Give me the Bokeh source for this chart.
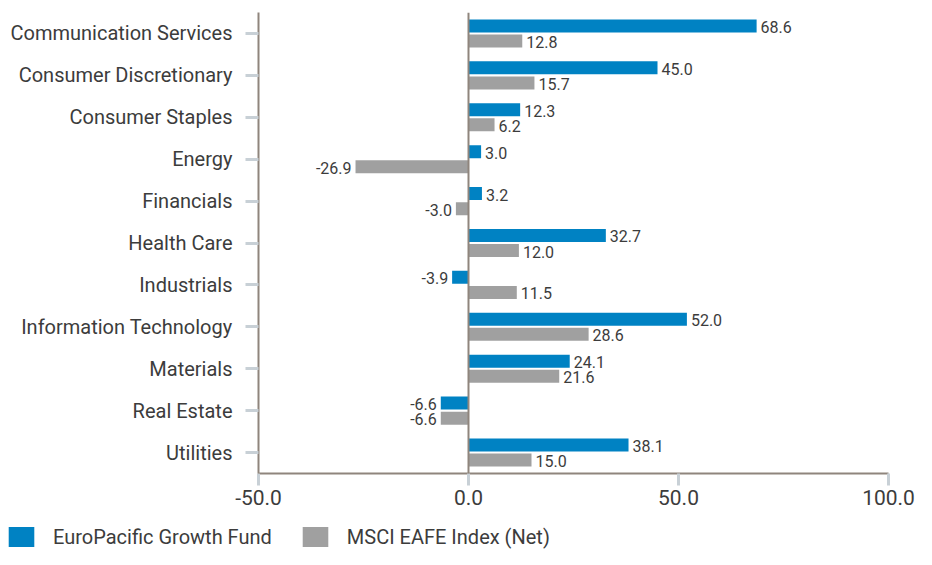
from bokeh.plotting import figure
from bokeh.models import (ColumnDataSource, FactorRange, Range1d, FixedTicker,
                          NumeralTickFormatter, Span, Legend, LegendItem)
from bokeh.transform import dodge
from bokeh.core.properties import value
from bokeh.embed import file_html
from bokeh.resources import INLINE

categories = ["Communication Services", "Consumer Discretionary", "Consumer Staples",
              "Energy", "Financials", "Health Care", "Industrials",
              "Information Technology", "Materials", "Real Estate", "Utilities"]
fund_values = [68.6, 45.0, 12.3, 3.0, 3.2, 32.7, -3.9, 52.0, 24.1, -6.6, 38.1]
index_values = [12.8, 15.7, 6.2, -26.9, -3.0, 12.0, 11.5, 28.6, 21.6, -6.6, 15.0]
series_names = ["EuroPacific Growth Fund", "MSCI EAFE Index (Net)"]
x_ticks = [-50, 0, 50, 100]

FONT = "Roboto"
TEXT = "#3c3c3c"
BLUE = "#0082c3"
GRAY = "#a0a0a0"
AXIS = "#8f857d"
TICK = "#c8d0d6"


def make_source(vals):
    return ColumnDataSource(dict(
        cat=categories,
        val=vals,
        label=["%.1f" % v for v in vals],
        align=["left" if v >= 0 else "right" for v in vals],
        xoff=[4 if v >= 0 else -4 for v in vals],
    ))


src_fund = make_source(fund_values)
src_index = make_source(index_values)

p = figure(
    y_range=FactorRange(factors=list(reversed(categories)), range_padding=0),
    x_range=Range1d(-50, 100),
    frame_width=630, frame_height=461,
    min_border_left=258, min_border_right=28, min_border_top=12, min_border_bottom=41,
    output_backend="svg", toolbar_location=None,
)
p.outline_line_color = None
p.xgrid.visible = False
p.ygrid.visible = False
p.background_fill_color = "white"

bh = 0.31
off = 0.18
p.hbar(y=dodge("cat", off, range=p.y_range), right="val", left=0, height=bh,
       source=src_fund, fill_color=BLUE, line_color=None)
p.hbar(y=dodge("cat", -off, range=p.y_range), right="val", left=0, height=bh,
       source=src_index, fill_color=GRAY, line_color=None)

for src, o in ((src_fund, off), (src_index, -off)):
    p.text(x="val", y=dodge("cat", o, range=p.y_range), text="label", source=src,
           x_offset="xoff", y_offset=1, text_align="align", text_baseline="middle",
           text_font=value(FONT), text_font_size="16px", text_color=TEXT)

p.add_layout(Span(location=0, dimension="height", line_color=AXIS, line_width=2))

# x axis
xa = p.xaxis[0]
xa.ticker = FixedTicker(ticks=x_ticks)
xa.formatter = NumeralTickFormatter(format="0.0")
xa.axis_line_color = AXIS
xa.axis_line_width = 2
xa.major_tick_line_color = TICK
xa.major_tick_line_width = 3
xa.major_tick_out = 12
xa.major_tick_in = 0
xa.minor_tick_line_color = None
xa.major_label_standoff = 4
xa.major_label_text_font = FONT
xa.major_label_text_font_size = "21px"
xa.major_label_text_color = TEXT

# y axis
ya = p.yaxis[0]
ya.axis_line_color = AXIS
ya.axis_line_width = 2
ya.major_tick_line_color = TICK
ya.major_tick_line_width = 3
ya.major_tick_out = 13
ya.major_tick_in = 0
ya.minor_tick_line_color = None
ya.major_label_standoff = 13
ya.major_label_text_font = FONT
ya.major_label_text_font_size = "20px"
ya.major_label_text_color = TEXT

# legend strip below the chart (separate root so its frame starts at the left edge)
leg = figure(width=916, height=35, x_range=Range1d(0, 1), y_range=Range1d(0, 1),
             min_border=0, x_axis_location=None, y_axis_location=None,
             output_backend="svg", toolbar_location=None)
leg.outline_line_color = None
leg.xgrid.visible = False
leg.ygrid.visible = False
key_src = ColumnDataSource(dict(y=[0.5], left=[0.0], right=[0.0]))
k1 = leg.hbar(y="y", left="left", right="right", height=0.5, source=key_src,
              fill_color=BLUE, line_color=None)
k2 = leg.hbar(y="y", left="left", right="right", height=0.5, source=key_src,
              fill_color=GRAY, line_color=None)
legend = Legend(
    items=[LegendItem(label=series_names[0], renderers=[k1]),
           LegendItem(label=series_names[1], renderers=[k2])],
    orientation="horizontal", location=(5, 0),
    glyph_width=32, glyph_height=25, label_standoff=16, spacing=27,
    padding=0, margin=0, border_line_color=None, background_fill_alpha=0,
    label_text_font=FONT, label_text_font_size="20px", label_text_color=TEXT,
)
leg.add_layout(legend, "center")

open("out.html", "w").write(file_html([p, leg], INLINE))
